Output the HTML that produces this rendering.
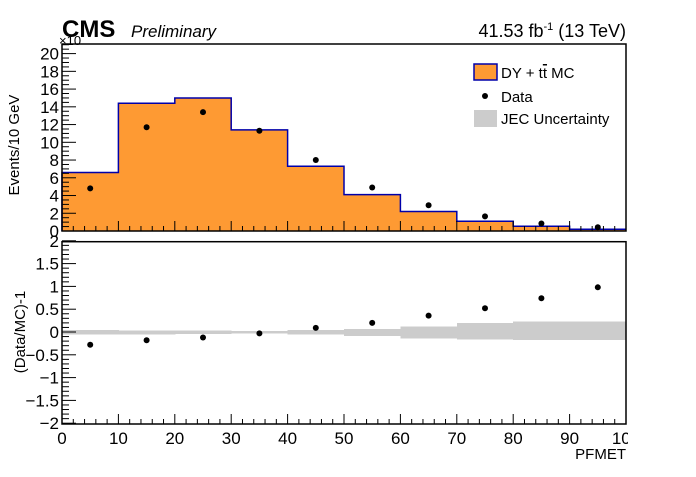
<!DOCTYPE html>
<html><head><meta charset="utf-8"><style>
body{margin:0;background:#fff;font-family:"Liberation Sans",sans-serif;}
svg text{font-family:"Liberation Sans",sans-serif;}
</style></head><body>
<svg id="c" width="696" height="472" xmlns="http://www.w3.org/2000/svg"></svg>
<script>
const binEdges=[0,10,20,30,40,50,60,70,80,90,100];
const mcValues=[6.6,14.4,15.0,11.4,7.3,4.1,2.2,1.1,0.53,0.2];
const dataValues=[4.8,11.7,13.4,11.3,8.0,4.9,2.9,1.65,0.85,0.42];
const ratioValues=[-0.28,-0.18,-0.12,-0.03,0.09,0.2,0.36,0.52,0.74,0.98];
const uncUp=[0.04,0.03,0.03,0.02,0.04,0.07,0.12,0.2,0.23,0.23];
const uncDown=[0.05,0.05,0.04,0.03,0.05,0.09,0.14,0.16,0.18,0.18];
const topTicks=[0,2,4,6,8,10,12,14,16,18,20];
const ratioTicks=[-2,-1.5,-1,-0.5,0,0.5,1,1.5,2];
const xTicks=[0,10,20,30,40,50,60,70,80,90,100];

const NS="http://www.w3.org/2000/svg";
const svg=document.getElementById('c');
function el(t,a,p){const e=document.createElementNS(NS,t);for(const k in a)e.setAttribute(k,a[k]);(p||svg).appendChild(e);return e;}
const X0=62,X1=626;
const xs=v=>X0+(v-0)/(100)*(X1-X0);
const T0=44,T1=231; const ys=v=>231-v*8.87;
const B0=241.7,B1=424; const yr=v=>332-v*45.6;

const mcG=el('g',{});
let d='M'+xs(0)+','+T1;
for(let i=0;i<mcValues.length;i++){d+=' L'+xs(binEdges[i])+','+ys(mcValues[i])+' L'+xs(binEdges[i+1])+','+ys(mcValues[i]);}
el('path',{d:d+' L'+xs(100)+','+T1+' Z',fill:'#fe9a33',stroke:'none'},mcG);
el('path',{d:d,fill:'none',stroke:'#0000aa','stroke-width':1.5},mcG);
const dG=el('g',{});
for(let i=0;i<dataValues.length;i++){
 const c=el('circle',{cx:xs((binEdges[i]+binEdges[i+1])/2),cy:ys(dataValues[i]),r:3,fill:'#000'},dG);
 
}
el('rect',{x:X0,y:T0,width:X1-X0,height:T1-T0,fill:'none',stroke:'#000','stroke-width':1.5});
for(let v=0;v<=21;v+=0.5){const y=ys(v);if(y<T0)break;const big=(v%2===0);el('line',{x1:X0,x2:X0+(big?14:7),y1:y,y2:y,stroke:'#000'});}
topTicks.forEach(v=>{const t=el('text',{x:X0-3,y:ys(v)+6,'text-anchor':'end','font-size':17});t.textContent=v;});
for(let v=0;v<=100;v+=2){const big=v%10===0;el('line',{x1:xs(v),x2:xs(v),y1:T1,y2:T1-(big?10:5),stroke:'#000'});}
let t=el('text',{x:59,y:45,'font-size':13});t.textContent='×10';
t=el('text',{x:19,y:145,'font-size':15,transform:'rotate(-90 19 145)','text-anchor':'middle'});t.textContent='Events/10 GeV';
t=el('text',{x:62,y:37,'font-size':24,'font-weight':'bold'});t.textContent='CMS';
t=el('text',{x:131,y:37,'font-size':17,'font-style':'italic'});t.textContent='Preliminary';
t=el('text',{x:626,y:37,'font-size':18,'text-anchor':'end'});t.innerHTML='41.53 fb<tspan dy="-7" font-size="11">-1</tspan><tspan dy="7"> (13 TeV)</tspan>';
const lg=el('g',{});
el('rect',{x:474,y:64,width:23,height:16,fill:'#fe9a33',stroke:'#0000aa','stroke-width':1.5},lg);
t=el('text',{x:501,y:78,'font-size':15},lg);t.innerHTML='DY + t<tspan style="text-decoration:overline">t</tspan>  MC';
el('circle',{cx:485,cy:96,r:3,fill:'#000'},lg);
t=el('text',{x:501,y:102,'font-size':15},lg);t.textContent='Data';
el('rect',{x:474,y:110,width:23,height:17,fill:'#cccccc'},lg);
t=el('text',{x:501,y:124,'font-size':15},lg);t.textContent='JEC Uncertainty';

const uG=el('g',{'shape-rendering':'crispEdges'});
for(let i=0;i<uncUp.length;i++){const r=el('rect',{x:xs(binEdges[i]),y:yr(uncUp[i]),width:xs(binEdges[i+1])-xs(binEdges[i])+0.5,height:yr(-uncDown[i])-yr(uncUp[i]),fill:'#cccccc'},uG);}
const rG=el('g',{});
for(let i=0;i<ratioValues.length;i++){const c=el('circle',{cx:xs((binEdges[i]+binEdges[i+1])/2),cy:yr(ratioValues[i]),r:3,fill:'#000'},rG);}
el('rect',{x:X0,y:B0,width:X1-X0,height:B1-B0,fill:'none',stroke:'#000','stroke-width':1.5});
for(let k=-20;k<=20;k++){const v=k/10;const big=(k%5===0);el('line',{x1:X0,x2:X0+(big?14:7),y1:yr(v),y2:yr(v),stroke:'#000'});}
ratioTicks.forEach(v=>{const tt=el('text',{x:X0-3,y:yr(v)+6,'text-anchor':'end','font-size':17});tt.textContent=(v<0?'\u2212'+(-v):v);});
for(let v=0;v<=100;v+=2){const big=v%10===0;el('line',{x1:xs(v),x2:xs(v),y1:B1,y2:B1-(big?10:5),stroke:'#000'});}
el('clipPath',{id:'xclip'}).appendChild(document.createElementNS(NS,'rect'));
const cr=document.querySelector('#xclip rect');cr.setAttribute('x',0);cr.setAttribute('y',0);cr.setAttribute('width',628);cr.setAttribute('height',472);
const xg=el('g',{'clip-path':'url(#xclip)'});
xTicks.forEach(v=>{const tt=el('text',{x:xs(v),y:444,'text-anchor':'middle','font-size':17},xg);tt.textContent=v;});
t=el('text',{x:25,y:332,'font-size':15,'text-anchor':'middle',transform:'rotate(-90 25 332)'});t.textContent='(Data/MC)-1';
t=el('text',{x:626,y:459,'font-size':15,'text-anchor':'end'});t.textContent='PFMET';
</script>
</body></html>
